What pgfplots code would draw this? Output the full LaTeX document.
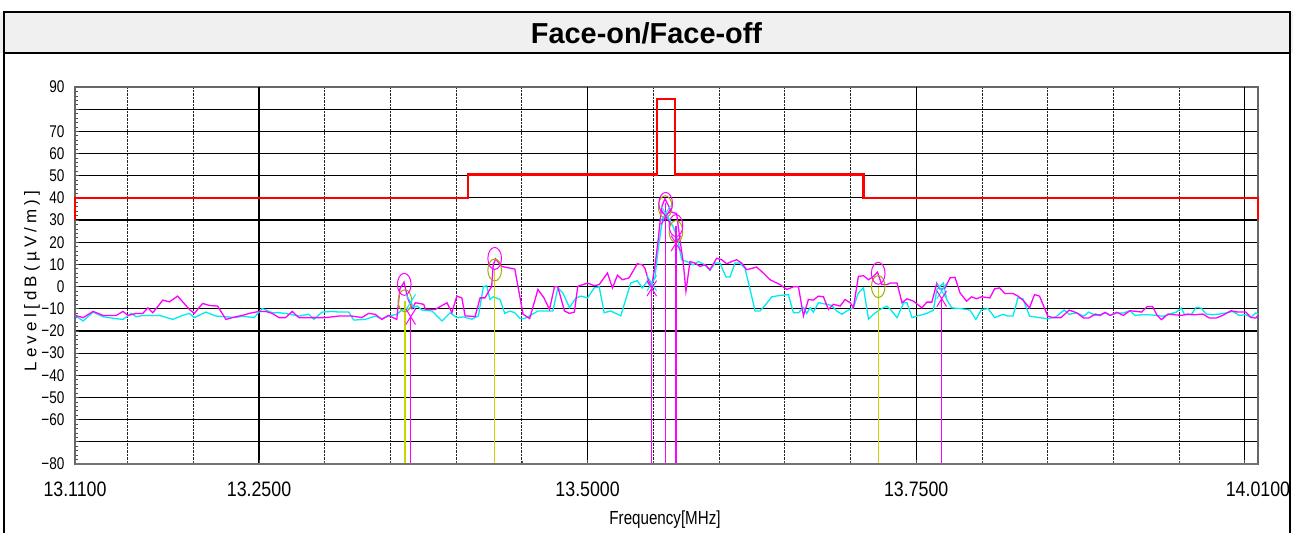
\documentclass[border=0pt]{standalone}
\usepackage{fontspec}
\setmainfont{Liberation Sans}
\newfontfamily\narrowfont[FakeStretch=0.8]{Liberation Sans}
\newfontfamily\xnarrowfont[FakeStretch=0.85]{Liberation Sans}
\newfontfamily\spacedfont[LetterSpace=25]{Liberation Sans}
\usepackage{pgfplots}
\pgfplotsset{compat=1.18}
\definecolor{mag}{RGB}{255,0,255}
\definecolor{cyn}{RGB}{0,235,240}
\definecolor{ylw}{RGB}{200,215,0}
\definecolor{titlebg}{RGB}{240,240,240}
\begin{document}
\begin{tikzpicture}[x=1bp,y=1bp]
\useasboundingbox (0,0) rectangle (1293,533);
\fill[titlebg] (0,480) rectangle (1293,521);
\node[font=\bfseries\fontsize{29}{30}\selectfont] at (646.5,500) {Face-on/Face-off};
\begin{axis}[
  at={(75bp,69bp)}, anchor=south west,
  width=1183bp, height=377bp, scale only axis,
  xmin=13.11, xmax=14.01, ymin=-80, ymax=90,
  xtick={13.11,13.25,13.5,13.75,14.01},
  xticklabels={13.1100,13.2500,13.5000,13.7500,14.0100},
  minor xtick={13.15,13.2,13.3,13.35,13.4,13.45,13.55,13.6,13.65,13.7,13.8,13.85,13.9,13.95},
  extra x ticks={13.25,13.5,13.75,14.0},
  extra x tick labels={},
  extra x tick style={xmajorgrids=true, major grid style={black, line width=1.1bp}},
  xminorgrids=true,
  minor grid style={black!85, densely dotted, line width=0.8bp},
  ytick={-80,-70,...,90},
  yticklabels={−80,,−60,−50,−40,−30,−20,−10,0,10,20,30,40,50,60,70,,90},
  ymajorgrids=true,
  major grid style={black, line width=1.2bp},
  minor y tick num=4,
  tick align=inside,
  xtick pos=bottom, ytick pos=left,
  major tick length=4bp, minor tick length=3bp,
  tick style={black!70, line width=0.7bp},
  axis line style={black!60, line width=1.2bp},
  xticklabel style={font=\xnarrowfont\fontsize{21}{22}\selectfont, yshift=-14bp},
  yticklabel style={font=\narrowfont\fontsize{17}{18}\selectfont, xshift=-7bp},
  clip=false,
]
% limit line
\addplot[red, line width=2.3bp, line join=miter] coordinates {
(13.11,30) (13.11,40) (13.409,40) (13.409,50.5) (13.553,50.5) (13.553,84.6)
(13.5665,84.6) (13.5665,50.5) (13.7098,50.5) (13.7098,40) (14.01,40) (14.01,30)};
% cyan trace
\addplot[cyn, line width=1.3bp] coordinates {
(13.110,-13.0) (13.1162,-15.5) (13.1238,-11.5) (13.1313,-13.6) (13.1414,-14.5)
(13.1465,-14.8) (13.1528,-12.1) (13.1566,-13.6) (13.1616,-13.0) (13.1743,-13.0)
(13.1844,-14.8) (13.1919,-13.0) (13.1970,-12.1) (13.2008,-14.0) (13.2096,-11.5)
(13.2172,-13.3) (13.2248,-13.6) (13.2323,-14.0) (13.2374,-13.3) (13.2462,-14.0)
(13.2525,-9.9) (13.2601,-11.8) (13.2652,-11.8) (13.2702,-12.1) (13.2803,-13.3)
(13.2879,-12.5) (13.2917,-14.8) (13.2980,-11.5) (13.3056,-11.2) (13.3106,-11.5)
(13.3182,-11.5) (13.3220,-15.1) (13.3308,-14.8) (13.3384,-13.3) (13.3434,-14.5)
(13.3485,-13.3) (13.3548,-12.5) (13.3586,-10.6) (13.3615,-10.3) (13.3703,-8.8)
(13.3741,-10.6) (13.3816,-11.0) (13.3892,-15.5) (13.3955,-11.8) (13.4005,-14.0)
(13.4056,-13.7) (13.4119,-14.7) (13.4169,-13.2) (13.4207,-0.1) (13.4232,0.4)
(13.4257,-5.8) (13.4282,-4.6) (13.4333,-5.8) (13.4370,-12.1) (13.4408,-11.0)
(13.4446,-11.8) (13.4484,-14.3) (13.4522,-14.4) (13.4559,-13.2) (13.4622,-11.0)
(13.4673,-11.0) (13.4736,-11.0) (13.4773,-0.6) (13.4811,-2.8) (13.4862,-9.5)
(13.4912,-5.1) (13.4950,-4.3) (13.5000,-5.1) (13.5050,-0.6) (13.5088,-0.1)
(13.5126,-11.8) (13.5176,-11.0) (13.5252,-13.2) (13.5328,1.6) (13.5378,2.7)
(13.5416,-0.6) (13.5454,2.4) (13.5474,0.1) (13.5512,3.9) (13.5538,17.3)
(13.5563,27.7) (13.5588,32.1) (13.5614,30.7) (13.5652,26.9) (13.5690,20.2)
(13.5715,12.1) (13.5753,11.3) (13.5804,9.8) (13.5842,11.3) (13.5893,9.8)
(13.5931,7.3) (13.5969,10.6) (13.6007,10.6) (13.6053,4.3) (13.6083,4.3)
(13.6121,10.6) (13.6159,10.6) (13.6197,8.3) (13.6236,-1.3) (13.6274,-11.0)
(13.6312,-11.0) (13.6350,-8.5) (13.6401,-4.6) (13.6464,-4.0) (13.6527,-3.6)
(13.6566,-11.8) (13.6604,-11.8) (13.6642,-9.5) (13.6667,-12.1) (13.6692,-9.5)
(13.6718,-11.5) (13.6756,-7.3) (13.6819,-8.0) (13.6857,-8.5) (13.6895,-11.0)
(13.6934,-12.5) (13.6972,-11.0) (13.7022,-9.5) (13.7060,-2.8) (13.7099,-0.6)
(13.7137,-14.7) (13.7175,-12.5) (13.7226,-10.3) (13.7276,-8.8) (13.7304,-10.3)
(13.7354,-14.0) (13.7405,-7.3) (13.7430,-7.3) (13.7468,-14.0) (13.7506,-13.3)
(13.7581,-12.1) (13.7631,-10.6) (13.7657,-1.3) (13.7707,1.6) (13.7732,-5.8)
(13.7770,-9.6) (13.7846,-10.0) (13.7909,-10.6) (13.7954,-14.8) (13.7997,-10.3)
(13.8047,-10.0) (13.8097,-14.0) (13.8160,-12.5) (13.8198,-13.3) (13.8236,-13.3)
(13.8274,-5.1) (13.8312,-5.5) (13.8362,-13.3) (13.8438,-14.0) (13.8501,-14.5)
(13.8564,-13.6) (13.8626,-10.6) (13.8664,-12.5) (13.8723,-11.9) (13.8774,-13.4)
(13.8812,-11.5) (13.8862,-13.0) (13.8900,-12.7) (13.8937,-11.9) (13.8975,-13.0)
(13.9026,-11.9) (13.9076,-11.9) (13.9126,-10.9) (13.9164,-13.0) (13.9215,-12.7)
(13.9265,-12.7) (13.9328,-13.0) (13.9378,-13.4) (13.9429,-12.4) (13.9479,-11.5)
(13.9517,-9.7) (13.9542,-12.7) (13.9592,-12.7) (13.9630,-9.4) (13.9668,-9.7)
(13.9706,-12.4) (13.9756,-12.7) (13.9807,-12.4) (13.9857,-11.9) (13.9907,-11.2)
(13.9958,-13.0) (14.0008,-12.7) (14.0046,-13.9) (14.0083,-11.9) (14.0100,-12.4)};
% magenta trace
\addplot[mag, line width=1.3bp] coordinates {
(13.110,-13.0) (13.1162,-14.0) (13.1238,-11.2) (13.1313,-13.0) (13.1414,-13.0)
(13.1465,-11.2) (13.1503,-13.0) (13.1566,-12.1) (13.1616,-12.1) (13.1654,-9.6)
(13.1692,-11.8) (13.1768,-6.1) (13.1818,-6.9) (13.1881,-4.3) (13.1970,-10.3)
(13.2008,-12.1) (13.2071,-7.6) (13.2121,-8.5) (13.2185,-8.8) (13.2248,-14.8)
(13.2323,-13.6) (13.2374,-13.0) (13.2424,-12.1) (13.2500,-11.2) (13.2551,-11.2)
(13.2601,-12.1) (13.2652,-14.0) (13.2702,-14.0) (13.2753,-11.2) (13.2803,-14.0)
(13.2904,-14.0) (13.3005,-14.0) (13.3106,-13.3) (13.3207,-13.3) (13.3283,-14.0)
(13.3333,-12.1) (13.3384,-12.5) (13.3434,-14.8) (13.3485,-13.0) (13.3548,-14.8)
(13.3572,-1.0) (13.3603,2.0) (13.3630,-5.0) (13.3664,-10.0) (13.3690,-7.3)
(13.3753,-8.0) (13.3766,-10.3) (13.3841,-10.3) (13.3930,-7.3) (13.3967,-11.8)
(13.4005,-4.3) (13.4043,-5.1) (13.4068,-13.2) (13.4144,-13.5) (13.4182,-5.1)
(13.4219,-5.1) (13.4270,0.1) (13.4282,9.8) (13.4300,12.5) (13.4345,9.1)
(13.4446,7.9) (13.4509,-12.5) (13.4559,-14.4) (13.4622,-1.3) (13.4668,-5.1)
(13.4710,-10.3) (13.4748,-0.1) (13.4773,-0.1) (13.4824,-11.0) (13.4862,-12.1)
(13.4899,-11.5) (13.4925,0.1) (13.5000,1.6) (13.5050,0.4) (13.5088,0.9)
(13.5151,6.1) (13.5189,-0.6) (13.5227,5.1) (13.5265,3.1) (13.5315,3.9)
(13.5378,10.3) (13.5416,9.8) (13.5436,8.3) (13.5461,3.1) (13.5487,0.1)
(13.5512,9.1) (13.5538,21.7) (13.5563,35.9) (13.5588,39.6) (13.5614,36.6)
(13.5639,33.6) (13.5677,32.9) (13.5703,21.0) (13.5728,10.6) (13.5748,-2.1)
(13.5779,11.3) (13.5817,10.6) (13.5855,9.1) (13.5893,9.8) (13.5931,7.6)
(13.5982,12.8) (13.6020,12.1) (13.6058,10.3) (13.6096,11.3) (13.6134,12.1)
(13.6172,10.6) (13.6210,7.6) (13.6286,8.8) (13.6324,6.8) (13.6388,3.1)
(13.6464,0.9) (13.6515,-1.3) (13.6566,-0.1) (13.6604,-0.1) (13.6642,-13.2)
(13.6680,-5.8) (13.6718,-6.1) (13.6756,-4.3) (13.6794,-4.6) (13.6832,-10.3)
(13.6870,-8.0) (13.6921,-8.8) (13.6959,-5.8) (13.6997,-7.3) (13.7022,-9.5)
(13.7060,4.6) (13.7099,4.9) (13.7137,3.1) (13.7175,4.6) (13.7205,6.5)
(13.7238,0.9) (13.7276,0.9) (13.7304,1.6) (13.7354,1.6) (13.7392,-7.3)
(13.7430,-5.5) (13.7480,-6.6) (13.7543,-9.6) (13.7581,-7.0) (13.7619,-7.0)
(13.7657,1.6) (13.7682,-1.3) (13.7720,-0.6) (13.7757,3.9) (13.7795,4.2)
(13.7833,-2.8) (13.7883,-6.6) (13.7921,-4.6) (13.7959,-5.5) (13.7997,-4.6)
(13.8060,-5.1) (13.8097,-1.0) (13.8135,-0.6) (13.8173,-3.1) (13.8236,-3.1)
(13.8274,-4.3) (13.8312,-6.1) (13.8362,-9.6) (13.8400,-3.6) (13.8438,-4.3)
(13.8501,-13.3) (13.8538,-14.0) (13.8601,-14.0) (13.8664,-10.6) (13.8723,-11.9)
(13.8774,-14.2) (13.8812,-14.2) (13.8862,-12.4) (13.8900,-13.0) (13.8937,-11.6)
(13.8975,-13.0) (13.9026,-11.6) (13.9076,-13.0) (13.9126,-10.9) (13.9177,-11.2)
(13.9215,-11.5) (13.9257,-9.0) (13.9298,-9.0) (13.9333,-13.0) (13.9366,-14.9)
(13.9416,-12.4) (13.9466,-12.7) (13.9517,-13.0) (13.9567,-12.4) (13.9618,-12.7)
(13.9681,-12.4) (13.9731,-14.2) (13.9781,-14.2) (13.9832,-13.0) (13.9895,-10.9)
(13.9945,-11.5) (14.0008,-11.5) (14.0046,-13.9) (14.0083,-14.2) (14.0100,-13.0)};
% marker lines (yellow)
\addplot[ylw, line width=1.3bp] coordinates {(13.361,-80) (13.361,-6.4)};
\addplot[ylw, line width=1.3bp] coordinates {(13.4293,-80) (13.4293,7.5)};
\addplot[ylw, line width=1.3bp] coordinates {(13.7211,-80) (13.7211,0)};
% marker lines (magenta)
\addplot[mag, line width=1.3bp] coordinates {(13.3654,-80) (13.3654,-13.6)};
\addplot[mag, line width=1.3bp] coordinates {(13.5488,-80) (13.5488,-0.8)};
\addplot[mag, line width=1.3bp] coordinates {(13.5594,-80) (13.5594,37.5)};
\addplot[mag, line width=1.3bp] coordinates {(13.5672,-80) (13.5672,27.5)};
\addplot[mag, line width=1.3bp] coordinates {(13.7694,-80) (13.7694,-5.5)};
% circles
\addplot[only marks, ylw!80!black, mark=o, mark size=11bp, mark options={xscale=0.62, line width=1bp}] coordinates {
(13.361,-6.4) (13.4293,7.5) (13.559,36) (13.5672,24.8) (13.7211,0)};
\addplot[only marks, mag, mark=o, mark size=11bp, mark options={xscale=0.62, line width=1bp}] coordinates {
(13.3605,1) (13.4293,12.7) (13.5594,37.5) (13.5672,27.5) (13.7211,6)};
% cross marks
\addplot[only marks, cyn, mark=x, mark size=11bp, mark options={xscale=0.62, line width=1bp}] coordinates {
(13.3654,-7) (13.5488,1.5) (13.5594,33) (13.7694,-2)};
\addplot[only marks, mag, mark=x, mark size=11bp, mark options={xscale=0.62, line width=1bp}] coordinates {
(13.3654,-13.6) (13.5488,-0.8) (13.5594,31.5) (13.5672,19.5) (13.7694,-5.5)};
\end{axis}
\draw[black!55, line width=2.5bp] (75,69) -- (1258,69);
\node[rotate=90, font=\spacedfont\fontsize{17}{18}\selectfont] at (32,252) {Level[dB(µV/m)]};
\node[font=\narrowfont\fontsize{19}{20}\selectfont] at (665,13) {Frequency[MHz]};
\draw[line width=2.5bp] (4,-5) -- (4,521) -- (1290,521) -- (1290,-5);
\draw[line width=2.5bp] (4,480) -- (1290,480);
\end{tikzpicture}
\end{document}
